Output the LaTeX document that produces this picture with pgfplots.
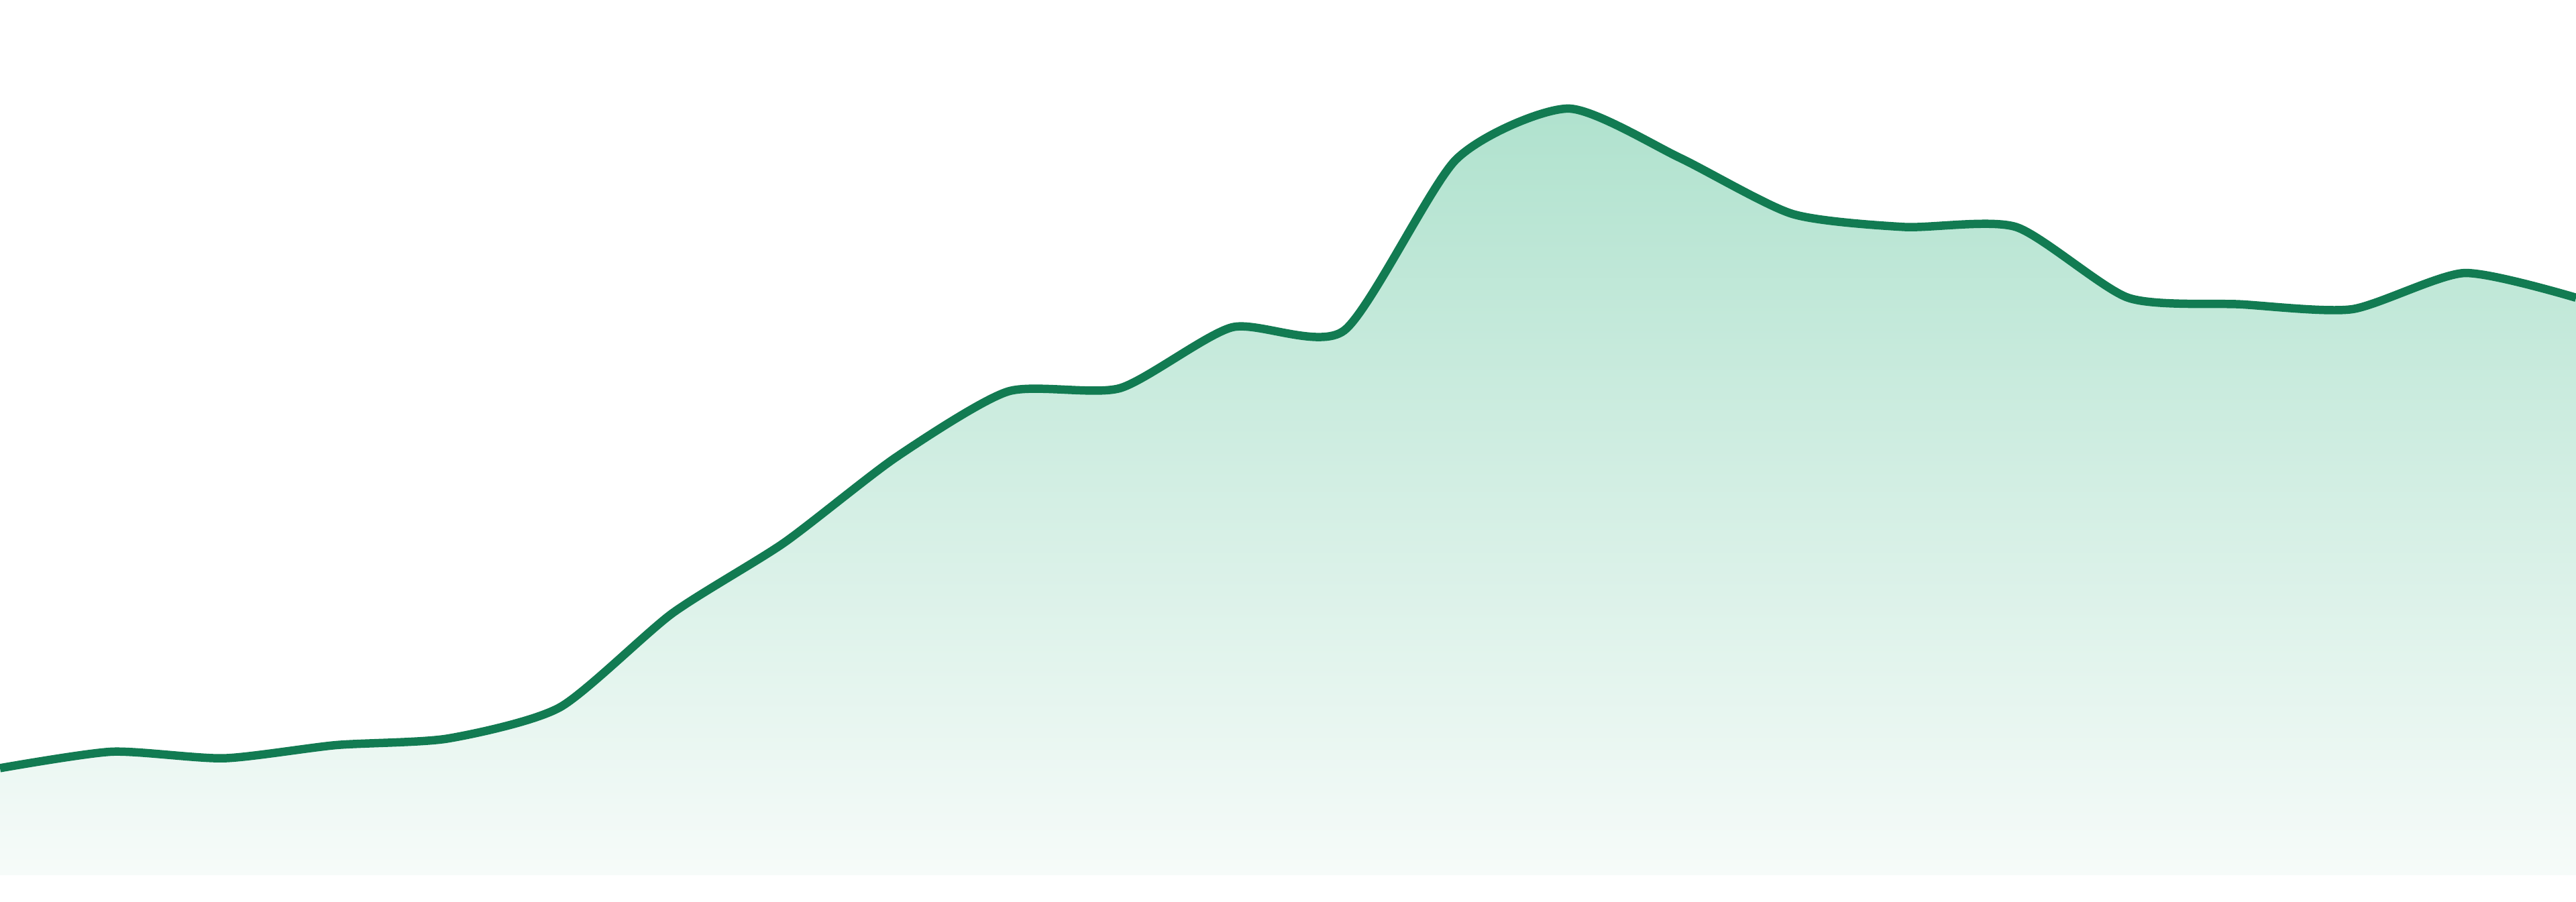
\documentclass[border=0pt]{standalone}
\usepackage{pgfplots}
\pgfplotsset{compat=1.18}
\usepgfplotslibrary{fillbetween}

\definecolor{lineGreen}{RGB}{18,123,82}
\definecolor{fillTop}{RGB}{176,226,206}
\definecolor{fillBottom}{RGB}{246,251,249}

\begin{document}
\begin{tikzpicture}
    \begin{axis}[
        name = main,
        width = 400pt,
        height = 140pt,
        scale only axis,
        hide axis,
        xmin = 0, xmax = 23,
        ymin = -16, ymax = 532,
        clip = true
        ]
        \addplot[name path=line, color=lineGreen, line width=1.3pt, smooth, tension=0.4] coordinates {
            (0, 65) (1, 75) (2, 71) (3, 79) (4, 83) (5, 102)
            (6, 159) (7, 202) (8, 254) (9, 294) (10, 296) (11, 333)
            (12, 331) (13, 435) (14, 466) (15, 436) (16, 402) (17, 394)
            (18, 394) (19, 351) (20, 347) (21, 344) (22, 366) (23, 351)
        };
        \addplot[name path=base, draw=none] coordinates {(0, 0) (23, 0)};
        \addplot[draw=none, top color=fillTop, bottom color=fillBottom]
            fill between[of=line and base];
    \end{axis}
    % page = whole plot area, also the white strip under the fill
    \path (main.south west) rectangle (main.north east);
\end{tikzpicture}
\end{document}
